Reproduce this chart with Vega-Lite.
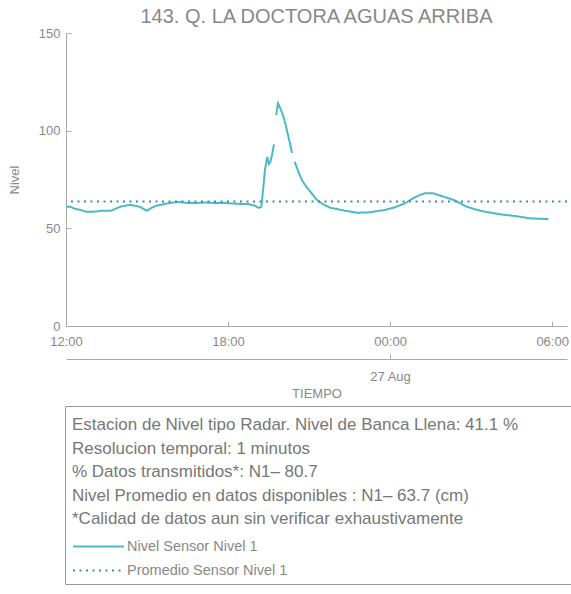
{
  "$schema": "https://vega.github.io/schema/vega-lite/v6.json",
  "width": 501,
  "height": 293,
  "autosize": {"type": "none"},
  "padding": {"left": 66, "top": 33, "right": 4, "bottom": 268},
  "background": "white",
  "config": {
    "view": {"stroke": null},
    "font": "Liberation Sans",
    "axis": {
      "grid": false,
      "domainColor": "#aaaaaa",
      "tickColor": "#aaaaaa",
      "labelColor": "#888888",
      "titleColor": "#888888",
      "labelFontSize": 13,
      "titleFontSize": 13,
      "titleFontWeight": "normal",
      "tickSize": -5,
      "labelFlush": false
    },
    "legend": {
      "orient": "none",
      "legendX": -1,
      "legendY": 373,
      "strokeColor": "#999999",
      "fillColor": "white",
      "padding": 7,
      "titleFontSize": 17,
      "titleLineHeight": 23.5,
      "titleBaseline": "line-top",
      "titleFontWeight": "normal",
      "titleColor": "#777777",
      "titlePadding": 13,
      "titleLimit": 2000,
      "labelLimit": 2000,
      "labelFontSize": 14.5,
      "labelColor": "#888888",
      "symbolType": "M-3,0H3",
      "symbolSize": 289,
      "symbolOffset": 17,
      "symbolStrokeWidth": 2,
      "rowPadding": 8,
      "labelOffset": 19
    }
  },
  "title": {
    "text": "143. Q. LA DOCTORA AGUAS ARRIBA",
    "fontSize": 20,
    "fontWeight": "normal",
    "color": "#888888",
    "anchor": "middle",
    "offset": 0
  },
  "datasets": {
    "nivel": [
      {"tiempo": "2024-08-26T12:00:00", "nivel": 61, "serie": "Nivel Sensor Nivel 1"},
      {"tiempo": "2024-08-26T12:10:00", "nivel": 61, "serie": "Nivel Sensor Nivel 1"},
      {"tiempo": "2024-08-26T12:20:00", "nivel": 60, "serie": "Nivel Sensor Nivel 1"},
      {"tiempo": "2024-08-26T12:30:00", "nivel": 59.5, "serie": "Nivel Sensor Nivel 1"},
      {"tiempo": "2024-08-26T12:45:00", "nivel": 58.5, "serie": "Nivel Sensor Nivel 1"},
      {"tiempo": "2024-08-26T13:00:00", "nivel": 58.5, "serie": "Nivel Sensor Nivel 1"},
      {"tiempo": "2024-08-26T13:20:00", "nivel": 59, "serie": "Nivel Sensor Nivel 1"},
      {"tiempo": "2024-08-26T13:40:00", "nivel": 59, "serie": "Nivel Sensor Nivel 1"},
      {"tiempo": "2024-08-26T14:00:00", "nivel": 61, "serie": "Nivel Sensor Nivel 1"},
      {"tiempo": "2024-08-26T14:10:00", "nivel": 61.5, "serie": "Nivel Sensor Nivel 1"},
      {"tiempo": "2024-08-26T14:22:00", "nivel": 62, "serie": "Nivel Sensor Nivel 1"},
      {"tiempo": "2024-08-26T14:35:00", "nivel": 61.5, "serie": "Nivel Sensor Nivel 1"},
      {"tiempo": "2024-08-26T14:44:00", "nivel": 61, "serie": "Nivel Sensor Nivel 1"},
      {"tiempo": "2024-08-26T14:52:00", "nivel": 60, "serie": "Nivel Sensor Nivel 1"},
      {"tiempo": "2024-08-26T15:00:00", "nivel": 59, "serie": "Nivel Sensor Nivel 1"},
      {"tiempo": "2024-08-26T15:10:00", "nivel": 60.5, "serie": "Nivel Sensor Nivel 1"},
      {"tiempo": "2024-08-26T15:20:00", "nivel": 61.5, "serie": "Nivel Sensor Nivel 1"},
      {"tiempo": "2024-08-26T15:30:00", "nivel": 62, "serie": "Nivel Sensor Nivel 1"},
      {"tiempo": "2024-08-26T15:40:00", "nivel": 62.5, "serie": "Nivel Sensor Nivel 1"},
      {"tiempo": "2024-08-26T15:50:00", "nivel": 63, "serie": "Nivel Sensor Nivel 1"},
      {"tiempo": "2024-08-26T16:10:00", "nivel": 63.5, "serie": "Nivel Sensor Nivel 1"},
      {"tiempo": "2024-08-26T16:30:00", "nivel": 63, "serie": "Nivel Sensor Nivel 1"},
      {"tiempo": "2024-08-26T16:50:00", "nivel": 63, "serie": "Nivel Sensor Nivel 1"},
      {"tiempo": "2024-08-26T17:10:00", "nivel": 63.2, "serie": "Nivel Sensor Nivel 1"},
      {"tiempo": "2024-08-26T17:30:00", "nivel": 63, "serie": "Nivel Sensor Nivel 1"},
      {"tiempo": "2024-08-26T17:50:00", "nivel": 63, "serie": "Nivel Sensor Nivel 1"},
      {"tiempo": "2024-08-26T18:10:00", "nivel": 62.7, "serie": "Nivel Sensor Nivel 1"},
      {"tiempo": "2024-08-26T18:30:00", "nivel": 62.5, "serie": "Nivel Sensor Nivel 1"},
      {"tiempo": "2024-08-26T18:45:00", "nivel": 62.5, "serie": "Nivel Sensor Nivel 1"},
      {"tiempo": "2024-08-26T19:00:00", "nivel": 61.5, "serie": "Nivel Sensor Nivel 1"},
      {"tiempo": "2024-08-26T19:08:00", "nivel": 60.5, "serie": "Nivel Sensor Nivel 1"},
      {"tiempo": "2024-08-26T19:14:00", "nivel": 61, "serie": "Nivel Sensor Nivel 1"},
      {"tiempo": "2024-08-26T19:18:00", "nivel": 70, "serie": "Nivel Sensor Nivel 1"},
      {"tiempo": "2024-08-26T19:22:00", "nivel": 80, "serie": "Nivel Sensor Nivel 1"},
      {"tiempo": "2024-08-26T19:27:00", "nivel": 86.5, "serie": "Nivel Sensor Nivel 1"},
      {"tiempo": "2024-08-26T19:31:00", "nivel": 83, "serie": "Nivel Sensor Nivel 1"},
      {"tiempo": "2024-08-26T19:34:00", "nivel": 84, "serie": "Nivel Sensor Nivel 1"},
      {"tiempo": "2024-08-26T19:38:00", "nivel": 88, "serie": "Nivel Sensor Nivel 1"},
      {"tiempo": "2024-08-26T19:42:00", "nivel": 93, "serie": "Nivel Sensor Nivel 1"},
      {"tiempo": "2024-08-26T19:44:00", "nivel": null, "serie": "Nivel Sensor Nivel 1"},
      {"tiempo": "2024-08-26T19:47:00", "nivel": 108, "serie": "Nivel Sensor Nivel 1"},
      {"tiempo": "2024-08-26T19:51:00", "nivel": 114, "serie": "Nivel Sensor Nivel 1"},
      {"tiempo": "2024-08-26T19:55:00", "nivel": 112, "serie": "Nivel Sensor Nivel 1"},
      {"tiempo": "2024-08-26T20:02:00", "nivel": 108, "serie": "Nivel Sensor Nivel 1"},
      {"tiempo": "2024-08-26T20:08:00", "nivel": 103, "serie": "Nivel Sensor Nivel 1"},
      {"tiempo": "2024-08-26T20:13:00", "nivel": 98, "serie": "Nivel Sensor Nivel 1"},
      {"tiempo": "2024-08-26T20:18:00", "nivel": 93, "serie": "Nivel Sensor Nivel 1"},
      {"tiempo": "2024-08-26T20:22:00", "nivel": 88.6, "serie": "Nivel Sensor Nivel 1"},
      {"tiempo": "2024-08-26T20:25:00", "nivel": null, "serie": "Nivel Sensor Nivel 1"},
      {"tiempo": "2024-08-26T20:28:00", "nivel": 84, "serie": "Nivel Sensor Nivel 1"},
      {"tiempo": "2024-08-26T20:33:00", "nivel": 81, "serie": "Nivel Sensor Nivel 1"},
      {"tiempo": "2024-08-26T20:38:00", "nivel": 78, "serie": "Nivel Sensor Nivel 1"},
      {"tiempo": "2024-08-26T20:44:00", "nivel": 74.8, "serie": "Nivel Sensor Nivel 1"},
      {"tiempo": "2024-08-26T20:50:00", "nivel": 72.5, "serie": "Nivel Sensor Nivel 1"},
      {"tiempo": "2024-08-26T20:56:00", "nivel": 70.7, "serie": "Nivel Sensor Nivel 1"},
      {"tiempo": "2024-08-26T21:02:00", "nivel": 69, "serie": "Nivel Sensor Nivel 1"},
      {"tiempo": "2024-08-26T21:07:00", "nivel": 67.6, "serie": "Nivel Sensor Nivel 1"},
      {"tiempo": "2024-08-26T21:12:00", "nivel": 66, "serie": "Nivel Sensor Nivel 1"},
      {"tiempo": "2024-08-26T21:18:00", "nivel": 64.5, "serie": "Nivel Sensor Nivel 1"},
      {"tiempo": "2024-08-26T21:30:00", "nivel": 62.5, "serie": "Nivel Sensor Nivel 1"},
      {"tiempo": "2024-08-26T21:47:00", "nivel": 60.5, "serie": "Nivel Sensor Nivel 1"},
      {"tiempo": "2024-08-26T22:00:00", "nivel": 60, "serie": "Nivel Sensor Nivel 1"},
      {"tiempo": "2024-08-26T22:20:00", "nivel": 59, "serie": "Nivel Sensor Nivel 1"},
      {"tiempo": "2024-08-26T22:47:00", "nivel": 58, "serie": "Nivel Sensor Nivel 1"},
      {"tiempo": "2024-08-26T23:16:00", "nivel": 58.2, "serie": "Nivel Sensor Nivel 1"},
      {"tiempo": "2024-08-26T23:35:00", "nivel": 59, "serie": "Nivel Sensor Nivel 1"},
      {"tiempo": "2024-08-26T23:49:00", "nivel": 59.4, "serie": "Nivel Sensor Nivel 1"},
      {"tiempo": "2024-08-27T00:11:00", "nivel": 60.8, "serie": "Nivel Sensor Nivel 1"},
      {"tiempo": "2024-08-27T00:33:00", "nivel": 62.8, "serie": "Nivel Sensor Nivel 1"},
      {"tiempo": "2024-08-27T00:45:00", "nivel": 64.5, "serie": "Nivel Sensor Nivel 1"},
      {"tiempo": "2024-08-27T00:56:00", "nivel": 66, "serie": "Nivel Sensor Nivel 1"},
      {"tiempo": "2024-08-27T01:08:00", "nivel": 67.2, "serie": "Nivel Sensor Nivel 1"},
      {"tiempo": "2024-08-27T01:18:00", "nivel": 68, "serie": "Nivel Sensor Nivel 1"},
      {"tiempo": "2024-08-27T01:35:00", "nivel": 68, "serie": "Nivel Sensor Nivel 1"},
      {"tiempo": "2024-08-27T01:48:00", "nivel": 67, "serie": "Nivel Sensor Nivel 1"},
      {"tiempo": "2024-08-27T02:02:00", "nivel": 66, "serie": "Nivel Sensor Nivel 1"},
      {"tiempo": "2024-08-27T02:25:00", "nivel": 64.2, "serie": "Nivel Sensor Nivel 1"},
      {"tiempo": "2024-08-27T02:47:00", "nivel": 61.4, "serie": "Nivel Sensor Nivel 1"},
      {"tiempo": "2024-08-27T03:09:00", "nivel": 59.7, "serie": "Nivel Sensor Nivel 1"},
      {"tiempo": "2024-08-27T03:31:00", "nivel": 58.5, "serie": "Nivel Sensor Nivel 1"},
      {"tiempo": "2024-08-27T04:04:00", "nivel": 57.2, "serie": "Nivel Sensor Nivel 1"},
      {"tiempo": "2024-08-27T04:38:00", "nivel": 56.3, "serie": "Nivel Sensor Nivel 1"},
      {"tiempo": "2024-08-27T05:11:00", "nivel": 55.1, "serie": "Nivel Sensor Nivel 1"},
      {"tiempo": "2024-08-27T05:44:00", "nivel": 54.8, "serie": "Nivel Sensor Nivel 1"},
      {"tiempo": "2024-08-27T05:52:00", "nivel": 54.7, "serie": "Nivel Sensor Nivel 1"}
    ],
    "promedio": [
      {"nivel": 63.7, "serie": "Promedio Sensor Nivel 1"}
    ]
  },
  "layer": [
    {
      "data": {"name": "nivel"},
      "mark": {"type": "line", "strokeWidth": 2, "invalid": "break-paths-filter-domains"},
      "encoding": {
        "x": {
          "field": "tiempo",
          "type": "temporal",
          "scale": {"domain": [
            {"year": 2024, "month": 8, "date": 26, "hours": 12, "minutes": 0},
            {"year": 2024, "month": 8, "date": 27, "hours": 6, "minutes": 33}
          ]},
          "axis": {
            "title": null,
            "format": "%H:%M",
            "values": [
              {"year": 2024, "month": 8, "date": 26, "hours": 12},
              {"year": 2024, "month": 8, "date": 26, "hours": 18},
              {"year": 2024, "month": 8, "date": 27, "hours": 0},
              {"year": 2024, "month": 8, "date": 27, "hours": 6}
            ],
            "labelPadding": 14
          }
        },
        "y": {
          "field": "nivel",
          "type": "quantitative",
          "scale": {"domain": [0, 150], "nice": false},
          "axis": {"title": "Nivel", "values": [0, 50, 100, 150], "labelPadding": 11, "titlePadding": 17}
        },
        "color": {
          "field": "serie",
          "type": "nominal",
          "scale": {"domain": ["Nivel Sensor Nivel 1", "Promedio Sensor Nivel 1"], "range": ["#4cb9c6", "#3a8ea9"]},
          "title": ["Estacion de Nivel tipo Radar. Nivel de Banca Llena: 41.1 %\u2800\u2800\u2800\u2800", "Resolucion temporal: 1 minutos", "% Datos transmitidos*: N1– 80.7", "Nivel Promedio en datos disponibles : N1– 63.7 (cm)", "*Calidad de datos aun sin verificar exhaustivamente"]
        },
        "strokeDash": {
          "field": "serie",
          "type": "nominal",
          "scale": {"domain": ["Nivel Sensor Nivel 1", "Promedio Sensor Nivel 1"], "range": [[1, 0], [2, 4.5]]},
          "title": ["Estacion de Nivel tipo Radar. Nivel de Banca Llena: 41.1 %\u2800\u2800\u2800\u2800", "Resolucion temporal: 1 minutos", "% Datos transmitidos*: N1– 80.7", "Nivel Promedio en datos disponibles : N1– 63.7 (cm)", "*Calidad de datos aun sin verificar exhaustivamente"]
        }
      }
    },
    {
      "data": {"name": "promedio"},
      "mark": {"type": "rule", "strokeWidth": 2},
      "encoding": {
        "y": {"field": "nivel", "type": "quantitative"},
        "color": {"field": "serie", "type": "nominal"},
        "strokeDash": {"field": "serie", "type": "nominal"}
      }
    },
    {
      "data": {"name": "nivel"},
      "mark": {"type": "point", "opacity": 0},
      "encoding": {
        "x": {
          "field": "tiempo",
          "type": "temporal",
          "axis": {
            "orient": "bottom",
            "offset": 33,
            "title": "TIEMPO",
            "format": "%d %b",
            "values": [{"year": 2024, "month": 8, "date": 27, "hours": 0}],
            "labelPadding": 16,
            "titlePadding": 4
          }
        },
        "y": {"field": "nivel", "type": "quantitative"}
      }
    }
  ],
  "resolve": {"axis": {"x": "independent"}}
}
